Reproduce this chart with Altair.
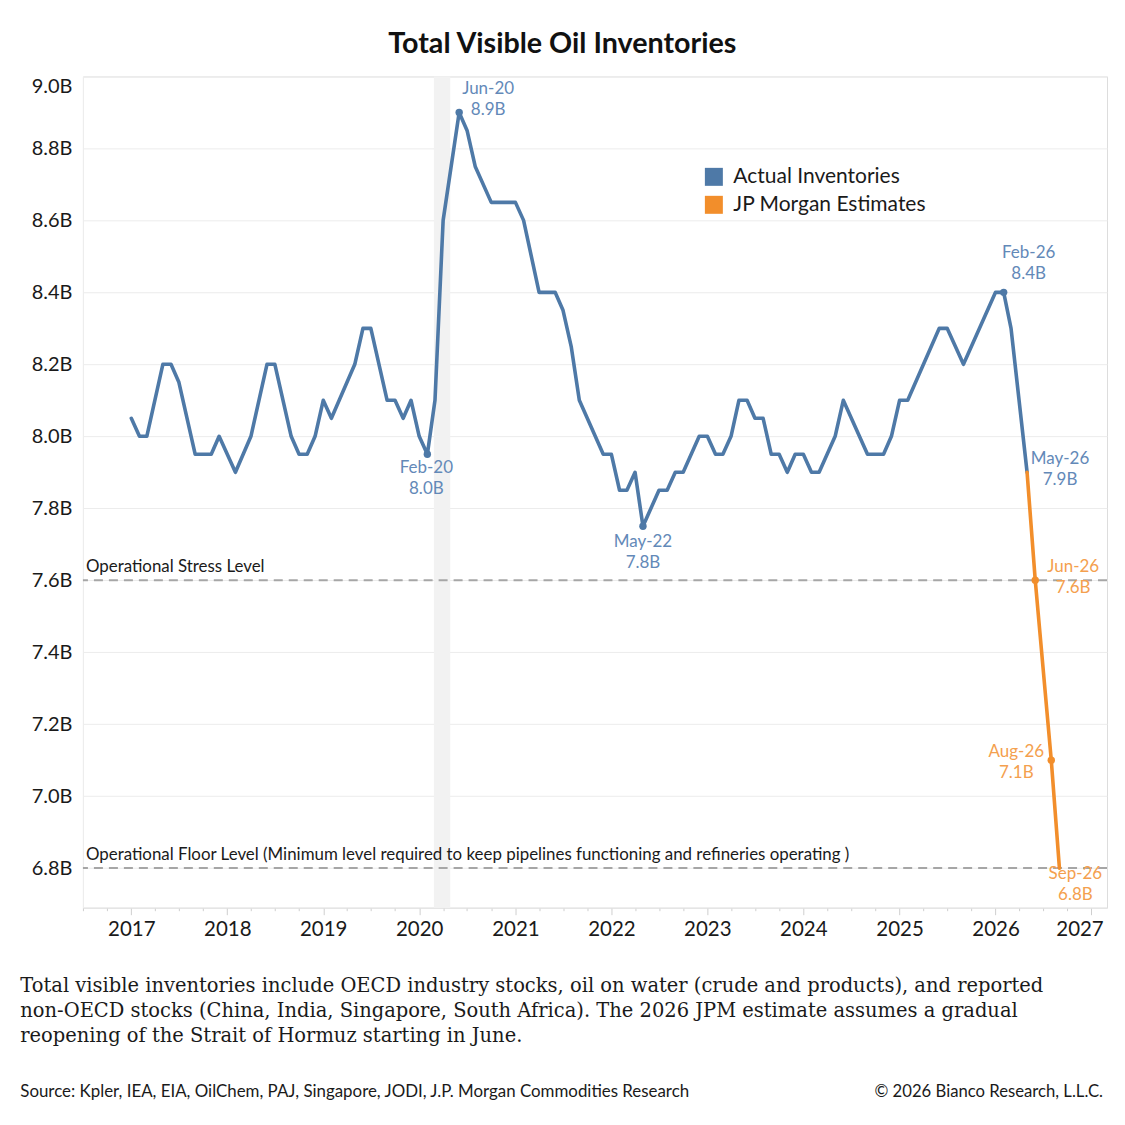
import altair as alt
import pandas as pd

# ---------------- data ----------------
actual_dates = [
    "2017-01-01", "2017-02-01", "2017-03-01", "2017-05-01", "2017-06-01", "2017-07-01",
    "2017-09-01", "2017-11-01", "2017-12-01", "2018-02-01", "2018-04-01", "2018-06-01",
    "2018-07-01", "2018-09-01", "2018-10-01", "2018-11-01", "2018-12-01", "2019-01-01",
    "2019-02-01", "2019-05-01", "2019-06-01", "2019-07-01", "2019-09-01", "2019-10-01",
    "2019-11-01", "2019-12-01", "2020-01-01", "2020-02-01", "2020-03-01", "2020-04-01",
    "2020-06-01", "2020-07-01", "2020-08-01", "2020-10-01", "2021-01-01", "2021-02-01",
    "2021-04-01", "2021-06-01", "2021-07-01", "2021-08-01", "2021-09-01", "2021-12-01",
    "2022-01-01", "2022-02-01", "2022-03-01", "2022-04-01", "2022-05-01", "2022-07-01",
    "2022-08-01", "2022-09-01", "2022-10-01", "2022-12-01", "2023-01-01", "2023-02-01",
    "2023-03-01", "2023-04-01", "2023-05-01", "2023-06-01", "2023-07-01", "2023-08-01",
    "2023-09-01", "2023-10-01", "2023-11-01", "2023-12-01", "2024-01-01", "2024-02-01",
    "2024-03-01", "2024-05-01", "2024-06-01", "2024-09-01", "2024-11-01", "2024-12-01",
    "2025-01-01", "2025-02-01", "2025-06-01", "2025-07-01", "2025-09-01", "2026-01-01",
    "2026-02-01", "2026-03-01", "2026-05-01",
]
actual_values = [
    8.05, 8.00, 8.00, 8.20, 8.20, 8.15,
    7.95, 7.95, 8.00, 7.90, 8.00, 8.20,
    8.20, 8.00, 7.95, 7.95, 8.00, 8.10,
    8.05, 8.20, 8.30, 8.30, 8.10, 8.10,
    8.05, 8.10, 8.00, 7.95, 8.10, 8.60,
    8.90, 8.85, 8.75, 8.65, 8.65, 8.60,
    8.40, 8.40, 8.35, 8.25, 8.10, 7.95,
    7.95, 7.85, 7.85, 7.90, 7.75, 7.85,
    7.85, 7.90, 7.90, 8.00, 8.00, 7.95,
    7.95, 8.00, 8.10, 8.10, 8.05, 8.05,
    7.95, 7.95, 7.90, 7.95, 7.95, 7.90,
    7.90, 8.00, 8.10, 7.95, 7.95, 8.00,
    8.10, 8.10, 8.30, 8.30, 8.20, 8.40,
    8.40, 8.30, 7.90,
]
est_dates = ["2026-05-01", "2026-06-01", "2026-08-01", "2026-09-01"]
est_values = [7.90, 7.60, 7.10, 6.80]

series_names = ["Actual Inventories", "JP Morgan Estimates"]
series_colors = ["#4e79a7", "#f28e2b"]

band_start = ["2020-02-26"]
band_end = ["2020-04-28"]

level_values = [7.6, 6.8]
level_labels = [
    "Operational Stress Level",
    "Operational Floor Level (Minimum level required to keep pipelines functioning and refineries operating )",
]

ann_dates = ["2020-02-01", "2020-06-01", "2022-05-01", "2026-02-01",
             "2026-05-01", "2026-06-01", "2026-08-01", "2026-09-01"]
ann_values = [7.95, 8.90, 7.75, 8.40, 7.90, 7.60, 7.10, 6.80]
ann_names = ["Feb-20", "Jun-20", "May-22", "Feb-26", "May-26", "Jun-26", "Aug-26", "Sep-26"]
ann_texts = ["8.0B", "8.9B", "7.8B", "8.4B", "7.9B", "7.6B", "7.1B", "6.8B"]
ann_series = [0, 0, 0, 0, 0, 1, 1, 1]
ann_dot = [True, True, True, True, False, True, True, False]

y_ticks = [6.8, 7.0, 7.2, 7.4, 7.6, 7.8, 8.0, 8.2, 8.4, 8.6, 8.8, 9.0]
x_years = list(range(2016, 2028))

title_text = "Total Visible Oil Inventories"
note_lines = [
    "Total visible inventories include OECD industry stocks, oil on water (crude and products), and reported",
    "non-OECD stocks (China, India, Singapore, South Africa). The 2026 JPM estimate assumes a gradual",
    "reopening of the Strait of Hormuz starting in June.",
]
source_text = "Source: Kpler, IEA, EIA, OilChem, PAJ, Singapore, JODI, J.P. Morgan Commodities Research"
copyright_text = "\u00a9 2026 Bianco Research, L.L.C."

# ---------------- layout ----------------
W, H = 1025, 832
FONT = "Lato"
TEXT_BLUE = "#6389b8"
TEXT_ORANGE = "#f4a04e"

xs = alt.Scale(type="utc",
               domain=[alt.DateTime(year=2016, month=7, date=1, utc=True),
                       alt.DateTime(year=2027, month=3, date=1, utc=True)])
ys = alt.Scale(domain=[6.69, 9.0], nice=False, zero=False)

quarter_ticks = []
for yr in x_years:
    for mo in (1, 4, 7, 10):
        if (yr == 2016 and mo < 7) or (yr == 2027 and mo > 1):
            continue
        quarter_ticks.append(alt.DateTime(year=yr, month=mo, date=1, utc=True))

x_axis = alt.Axis(
    title=None, values=quarter_ticks,
    labelExpr="utcmonth(datum.value) == 0 ? utcFormat(datum.value, '%Y') : ''",
    labelOverlap=False, labelFlush=False, grid=False,
    labelFont=FONT, labelFontSize=20.5, labelColor="#1a1a1a", labelPadding=5,
    tickColor="#cfcfcf", tickWidth=1,
    tickSize={"condition": {"test": "utcmonth(datum.value) == 0", "value": 7}, "value": 3},
    labelOffset={"condition": {"test": "utcyear(datum.value) == 2027", "value": -12}, "value": 0},
    domainColor="#e3e3e3", domainWidth=1,
)
y_axis = alt.Axis(
    title=None, values=y_ticks,
    labelExpr="format(datum.value, '.1f') + 'B'",
    labelFont=FONT, labelFontSize=20, labelColor="#1a1a1a", labelPadding=11,
    labelFlush=True, ticks=False, domainColor="#eeeeee",
    gridColor="#ececec", gridWidth=1,
)

X = lambda f="date": alt.X(f"{f}:T", scale=xs, axis=x_axis)
Y = lambda f="value": alt.Y(f"{f}:Q", scale=ys, axis=y_axis)

# ---------------- layers ----------------
band_df = pd.DataFrame({"start": band_start, "end": band_end})
band = alt.Chart(band_df).mark_rect(color="#f2f2f2").encode(
    x=X("start"), x2="end:T"
)

level_df = pd.DataFrame({"value": level_values, "label": level_labels})
rules = alt.Chart(level_df).mark_rule(
    color="#a6a6a6", strokeWidth=2, strokeDash=[9, 6]
).encode(y=Y())
rule_text = alt.Chart(level_df).mark_text(
    align="left", baseline="middle", dy=-13, font=FONT, fontSize=16.9, color="#1a1a1a"
).encode(x=alt.value(3), y=Y(), text="label:N")

actual_df = pd.DataFrame({"date": actual_dates, "value": actual_values})
est_df = pd.DataFrame({"date": est_dates, "value": est_values})
line_actual = alt.Chart(actual_df).mark_line(
    color=series_colors[0], strokeWidth=3.6, strokeJoin="round", strokeCap="round"
).encode(x=X(), y=Y())
line_est = alt.Chart(est_df).mark_line(
    color=series_colors[1], strokeWidth=3.6, strokeJoin="round", strokeCap="round"
).encode(x=X(), y=Y())

ann_df = pd.DataFrame({
    "date": ann_dates, "value": ann_values, "name": ann_names, "txt": ann_texts,
    "series": [series_names[i] for i in ann_series], "dot": ann_dot,
})
dots = alt.Chart(ann_df[ann_df["dot"]]).mark_point(
    filled=True, size=55, opacity=1
).encode(
    x=X(), y=Y(),
    color=alt.Color("series:N",
                    scale=alt.Scale(domain=series_names, range=series_colors),
                    legend=alt.Legend(title=None, orient="none", legendX=621, legendY=90,
                                      symbolType="square", symbolSize=324,
                                      symbolStrokeWidth=0, symbolOpacity=1,
                                      labelFont=FONT, labelFontSize=21, labelColor="#1a1a1a",
                                      labelLimit=0, labelOffset=9, rowPadding=6, padding=0)),
)

# label offsets (dx, dy line 1, dy line 2) per annotation
offsets = {
    "Feb-20": (-1, 14, 35),
    "Jun-20": (29, -23, -2),
    "May-22": (0, 16, 37),
    "Feb-26": (25, -39, -18),
    "May-26": (33, -13, 8),
    "Jun-26": (38, -13, 8),
    "Aug-26": (-35, -8, 13),
    "Sep-26": (16, 6, 27),
}
ann_layers = []
for i, nm in enumerate(ann_names):
    dx, dy1, dy2 = offsets[nm]
    sub = ann_df.iloc[[i]]
    col = TEXT_BLUE if ann_series[i] == 0 else TEXT_ORANGE
    for fld, dy in (("name", dy1), ("txt", dy2)):
        ann_layers.append(
            alt.Chart(sub).mark_text(
                align="center", baseline="middle", dx=dx, dy=dy,
                font=FONT, fontSize=17, color=col
            ).encode(x=X(), y=Y(), text=f"{fld}:N")
        )

title = alt.Chart(pd.DataFrame({"t": [title_text]})).mark_text(
    align="center", baseline="middle", font=FONT, fontSize=28.7, fontWeight="bold", color="#111111"
).encode(x=alt.value(479.8), y=alt.value(-32), text="t:N")

note_layers = []
for j, line in enumerate(note_lines):
    note_layers.append(
        alt.Chart(pd.DataFrame({"t": [line]})).mark_text(
            align="left", baseline="middle", font="DejaVu Serif", fontSize=19.5, color="#1a1a1a"
        ).encode(x=alt.value(-62.7), y=alt.value(910 + 25 * j), text="t:N")
    )
source = alt.Chart(pd.DataFrame({"t": [source_text]})).mark_text(
    align="left", baseline="middle", font=FONT, fontSize=16.9, color="#1a1a1a"
).encode(x=alt.value(-62.7), y=alt.value(1016), text="t:N")
copyright_ = alt.Chart(pd.DataFrame({"t": [copyright_text]})).mark_text(
    align="right", baseline="middle", font=FONT, fontSize=16.7, color="#1a1a1a"
).encode(x=alt.value(1021), y=alt.value(1016), text="t:N")

chart = alt.layer(
    band, rules, rule_text, line_actual, line_est, dots, *ann_layers,
    title, *note_layers, source, copyright_,
).properties(
    width=W, height=H,
    autosize=alt.AutoSizeParams(type="none"),
    padding={"left": 75, "top": 68, "right": 10, "bottom": 200},
    background="white",
).configure_view(stroke=None).configure(font=FONT)

chart.save("out.html", embed_options={"renderer": "svg", "actions": False})
